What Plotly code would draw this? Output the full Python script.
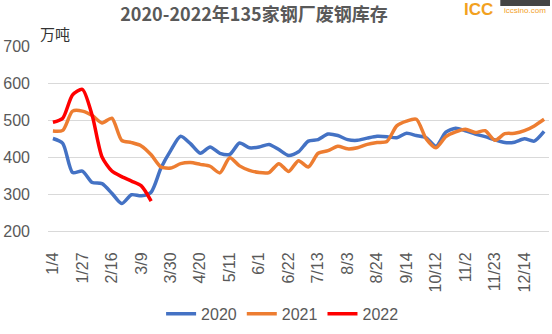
import plotly.graph_objects as go

dates = ["1/4","1/11","1/18","1/27","2/2","2/9","2/16","2/23","3/2","3/9","3/16","3/23","3/30",
         "4/6","4/13","4/20","4/27","5/4","5/11","5/18","5/25","6/1","6/8","6/15","6/22",
         "6/29","7/6","7/13","7/20","7/27","8/3","8/10","8/17","8/24","8/31","9/7","9/14",
         "9/21","9/28","10/12","10/19","10/26","11/2","11/9","11/16","11/23","11/30","12/7",
         "12/14","12/21","12/28"]

s2020 = [450, 437, 358, 362, 331, 328, 302, 274, 298, 295, 305, 370, 418, 456, 436, 410, 427,
         410, 407, 438, 425, 427, 434, 420, 404, 414, 443, 447, 462, 458, 447, 445, 451, 456,
         455, 452, 464, 458, 452, 429, 467, 478, 471, 462, 455, 446, 439, 440, 449, 443, 469]
s2021 = [470, 472, 524, 524, 512, 492, 505, 445, 439, 430, 406, 373, 370, 382, 385, 380, 375,
         357, 398, 376, 364, 358, 358, 382, 361, 390, 373, 410, 417, 429, 422, 425, 434, 439,
         442, 484, 497, 502, 449, 425, 455, 468, 475, 466, 471, 445, 463, 464, 471, 484, 502]
s2022 = [494, 505, 568, 583, 512, 400, 362, 347, 335, 322, 281]

series_names = ["2020", "2021", "2022"]
colors = ["#4472C4", "#ED7D31", "#FF0000"]
tick_labels = dates[::3]

title_text = "2020-2022年135家钢厂废钢库存"
unit_text = "万吨"

W, H = 552, 334
L, R, T, B = 45, 3, 46, 98
pw, ph = W - L - R, H - T - B

def px_to_paper_x(px):
    return (px - L) / pw

def px_to_paper_y(py):
    return (H - B - py) / ph

fig = go.Figure()
for name, vals, c in zip(series_names, [s2020, s2021, s2022], colors):
    fig.add_trace(go.Scatter(
        x=dates[:len(vals)], y=vals, name=name, mode="lines",
        line=dict(color=c, width=3.5, shape="spline", smoothing=0.7),
    ))

grid = "#D9D9D9"
txt = "#595959"
fig.update_layout(
    width=W, height=H,
    margin=dict(l=L, r=R, t=T, b=B, pad=0),
    paper_bgcolor="white", plot_bgcolor="white",
    font=dict(family="Liberation Sans, Noto Sans CJK SC", size=16, color=txt),
    title=dict(text="<b>" + title_text + "</b>", x=254 / W, xanchor="center",
               y=1 - 15 / H, yanchor="middle",
               font=dict(family="Noto Sans CJK SC", size=18, color=txt)),
    showlegend=True,
    legend=dict(orientation="h", x=px_to_paper_x(281), xanchor="center",
                y=px_to_paper_y(321), yanchor="middle",
                font=dict(size=16, color=txt), itemwidth=30,
                bgcolor="rgba(0,0,0,0)"),
    xaxis=dict(type="category", categoryorder="array", categoryarray=dates,
               range=[-0.5, len(dates) - 0.5],
               tickmode="array", tickvals=tick_labels, ticktext=tick_labels,
               tickangle=-90, showgrid=False, showline=True, linecolor=grid,
               linewidth=1, ticks="", tickfont=dict(size=16, color=txt),
               ticklabelstandoff=14),
    yaxis=dict(range=[200, 700], dtick=100, tick0=200, showgrid=True,
               gridcolor=grid, gridwidth=1, zeroline=False, showline=False,
               ticks="", tickfont=dict(size=16, color=txt), ticklabelstandoff=17),
)

fig.add_annotation(text=unit_text, xref="paper", yref="paper",
                   x=px_to_paper_x(52), y=px_to_paper_y(33),
                   xanchor="center", yanchor="middle", showarrow=False,
                   font=dict(family="Noto Sans CJK SC", size=15, color="#333333"))

# logo approximation
fig.add_annotation(text="<b>ICC</b>", xref="paper", yref="paper",
                   x=px_to_paper_x(478), y=px_to_paper_y(8),
                   xanchor="center", yanchor="middle", showarrow=False,
                   font=dict(family="Liberation Sans", size=17, color="#F2A11F"))
fig.add_shape(type="rect", xref="paper", yref="paper",
              x0=px_to_paper_x(500), x1=px_to_paper_x(550),
              y0=px_to_paper_y(5), y1=px_to_paper_y(-2),
              fillcolor="#444444", line=dict(width=0))
fig.add_annotation(text="iccsino.com", xref="paper", yref="paper",
                   x=px_to_paper_x(502), y=px_to_paper_y(10),
                   xanchor="left", yanchor="middle", showarrow=False,
                   font=dict(family="Liberation Sans", size=8, color="#F2A11F"))

fig.write_html("out.html")
